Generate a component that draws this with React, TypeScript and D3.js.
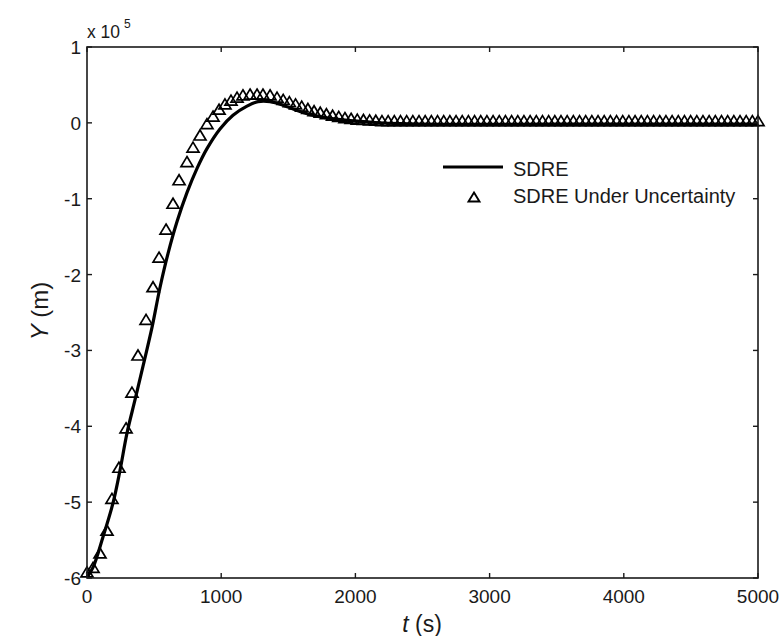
import React from "react";
import * as d3 from "d3";

// Values in units of 1e5 m
const sdreT = [0, 45, 119, 194, 246, 298, 358, 417, 484, 544, 604, 671, 745, 820, 894, 991, 1088, 1192, 1274, 1364, 1480, 1587, 1680, 1773, 1870, 1960, 2150, 2332, 2705, 3077, 3500, 4000, 4500, 5000];
const sdreY = [-5.99, -5.86, -5.46, -5.01, -4.58, -4.09, -3.65, -3.21, -2.70, -2.17, -1.72, -1.30, -0.92, -0.60, -0.34, -0.08, 0.10, 0.22, 0.28, 0.28, 0.22, 0.15, 0.10, 0.07, 0.045, 0.03, 0.005, -0.01, -0.02, -0.02, -0.015, -0.015, -0.015, -0.015];

const uncT = [0, 45, 97, 149, 186, 238, 291, 335, 380, 440, 492, 537, 589, 641, 686, 745, 790, 842, 894, 939, 984, 1028, 1073, 1118, 1162, 1215, 1267, 1311, 1364, 1416,
  1462, 1508, 1554, 1600, 1646, 1692, 1738, 1784, 1830, 1876, 1922, 1968, 2014, 2060, 2106, 2152, 2198, 2244, 2290, 2336, 2382, 2428, 2474, 2520, 2566, 2612, 2658, 2704, 2750, 2796, 2842, 2888, 2934, 2980, 3026, 3072, 3118, 3164, 3210, 3256, 3302, 3348, 3394, 3440, 3486, 3532, 3578, 3624, 3670, 3716, 3762, 3808, 3854, 3900, 3946, 3992, 4038, 4084, 4130, 4176, 4222, 4268, 4314, 4360, 4406, 4452, 4498, 4544, 4590, 4636, 4682, 4728, 4774, 4820, 4866, 4912, 4958, 5000];
const uncY = [-5.92, -5.86, -5.67, -5.37, -4.95, -4.54, -4.02, -3.55, -3.06, -2.59, -2.16, -1.77, -1.40, -1.06, -0.75, -0.51, -0.32, -0.16, -0.01, 0.09, 0.18, 0.25, 0.30, 0.34, 0.37, 0.38, 0.38, 0.38, 0.37, 0.34,
  0.31, 0.28, 0.25, 0.22, 0.19, 0.16, 0.14, 0.12, 0.10, 0.085, 0.07, 0.06, 0.05, 0.045, 0.04, 0.035, 0.03, 0.03, 0.03, 0.03, 0.03, 0.03, 0.03, 0.03, 0.03, 0.03, 0.03, 0.03, 0.03, 0.03, 0.03, 0.03, 0.03, 0.03, 0.03, 0.03, 0.03, 0.03, 0.03, 0.03, 0.03, 0.03, 0.03, 0.03, 0.03, 0.03, 0.03, 0.03, 0.03, 0.03, 0.03, 0.03, 0.03, 0.03, 0.03, 0.03, 0.03, 0.03, 0.03, 0.03, 0.03, 0.03, 0.03, 0.03, 0.03, 0.03, 0.03, 0.03, 0.03, 0.03, 0.03, 0.03, 0.03, 0.03, 0.03, 0.03, 0.03, 0.03];

const xTicks = [0, 1000, 2000, 3000, 4000, 5000];
const yTicks = [-6, -5, -4, -3, -2, -1, 0, 1];
const legendLabels = ["SDRE", "SDRE Under Uncertainty"];

const FONT = "'Liberation Sans', Arial, Helvetica, sans-serif";
const INK = "#1a1a1a";

export default function App() {
  const W = 783, H = 636;
  const left = 87, right = 758, top = 47, bottom = 578;
  const x = d3.scaleLinear().domain([0, 5000]).range([left, right]);
  const y = d3.scaleLinear().domain([-6, 1]).range([bottom, top]);

  const sdre = sdreT.map((t, i) => [t, sdreY[i]] as [number, number]);
  const unc = uncT.map((t, i) => [t, uncY[i]] as [number, number]);

  const lineGen = d3.line<[number, number]>()
    .x(d => x(d[0]))
    .y(d => y(d[1]))
    .curve(d3.curveCatmullRom.alpha(0.5));

  const tri = (cx: number, cy: number, w: number, h: number) =>
    `M${cx},${cy - h / 2}L${cx + w / 2},${cy + h / 2}L${cx - w / 2},${cy + h / 2}Z`;

  const tickLen = 5;

  return (
    <div style={{ position: "absolute", left: 0, top: 0 }}>
      <svg width={W} height={H} style={{ display: "block", background: "#fff" }}>
        <rect x={0} y={0} width={W} height={H} fill="#fff" />
        {/* data line */}
        <path d={lineGen(sdre) || ""} fill="none" stroke="#000" strokeWidth={3.2} strokeLinejoin="round" />
        {/* markers */}
        {unc.map((d, i) => (
          <path key={i} d={tri(x(d[0]), y(d[1]), 12, 10)} fill="none" stroke="#000" strokeWidth={1.7} />
        ))}
        {/* axes box */}
        <rect x={left} y={top} width={right - left} height={bottom - top} fill="none" stroke={INK} strokeWidth={1.6} />
        {xTicks.map(t => (
          <g key={"xt" + t}>
            <line x1={x(t)} x2={x(t)} y1={bottom} y2={bottom - tickLen} stroke={INK} strokeWidth={1.4} />
            <line x1={x(t)} x2={x(t)} y1={top} y2={top + tickLen} stroke={INK} strokeWidth={1.4} />
            <text x={x(t)} y={603} textAnchor="middle" fontFamily={FONT} fontSize={19} fill={INK}>{t}</text>
          </g>
        ))}
        {yTicks.map(v => (
          <g key={"yt" + v}>
            <line x1={left} x2={left + tickLen} y1={y(v)} y2={y(v)} stroke={INK} strokeWidth={1.4} />
            <line x1={right} x2={right - tickLen} y1={y(v)} y2={y(v)} stroke={INK} strokeWidth={1.4} />
            <text x={81} y={y(v) + 7} textAnchor="end" fontFamily={FONT} fontSize={19} fill={INK}>{v}</text>
          </g>
        ))}
        {/* exponent */}
        <text x={87} y={38} fontFamily={FONT} fontSize={17.5} fill={INK}>x 10</text>
        <text x={124} y={28} fontFamily={FONT} fontSize={12} fill={INK}>5</text>
        {/* axis labels */}
        <text transform={`translate(48,${311}) rotate(-90)`} textAnchor="middle" fontFamily={FONT} fontSize={24} fill={INK}>
          <tspan fontStyle="italic">Y</tspan> (m)
        </text>
        <text x={422} y={632} textAnchor="middle" fontFamily={FONT} fontSize={23} fill={INK}>
          <tspan fontStyle="italic">t</tspan> (s)
        </text>
        {/* legend */}
        <line x1={443} x2={503} y1={167} y2={167} stroke="#000" strokeWidth={3.2} />
        <text x={513} y={176} fontFamily={FONT} fontSize={20} fill={INK}>{legendLabels[0]}</text>
        <path d={tri(474, 197, 11, 9)} fill="none" stroke="#000" strokeWidth={1.9} />
        <text x={513} y={203} fontFamily={FONT} fontSize={20} fill={INK}>{legendLabels[1]}</text>
      </svg>
    </div>
  );
}
